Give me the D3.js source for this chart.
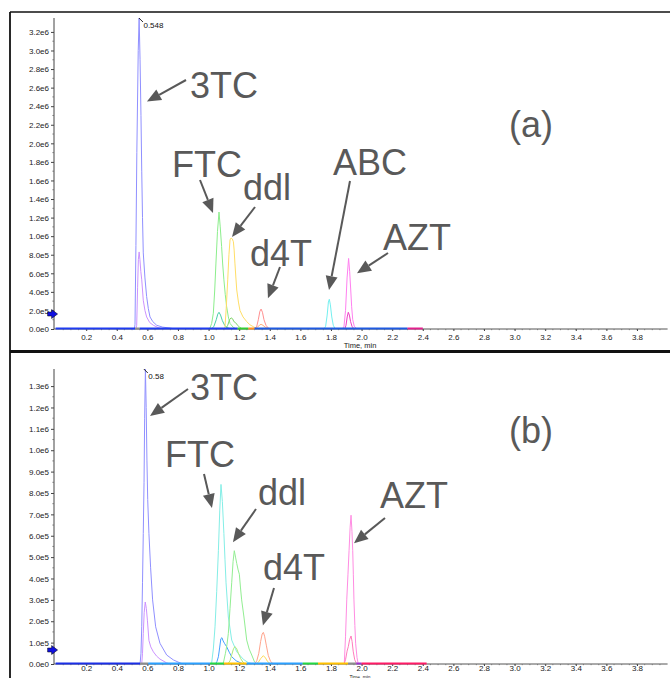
<!DOCTYPE html>
<html>
<head>
<meta charset="utf-8">
<script src="https://cdn.jsdelivr.net/npm/d3@7"></script>
<style>
  body { margin: 0; background: #fff; }
  svg { display: block; }
  text { font-family: "Liberation Sans", Arial, sans-serif; }
</style>
</head>
<body>
<svg id="chart" width="670" height="678"></svg>
<script>
// ---------- data: time in min, intensity in cps ----------
const timeTicks = [0.2, 0.4, 0.6, 0.8, 1.0, 1.2, 1.4, 1.6, 1.8, 2.0, 2.2, 2.4, 2.6, 2.8, 3.0, 3.2, 3.4, 3.6, 3.8];
const yTicksA = [0, 2e5, 4e5, 6e5, 8e5, 1.0e6, 1.2e6, 1.4e6, 1.6e6, 1.8e6, 2.0e6, 2.2e6, 2.4e6, 2.6e6, 2.8e6, 3.0e6, 3.2e6];
const yTicksB = [0, 1e5, 2e5, 3e5, 4e5, 5e5, 6e5, 7e5, 8e5, 9e5, 1.0e6, 1.1e6, 1.2e6, 1.3e6];

// panel (a): quantifier / qualifier transitions
const a3TCq = [[0.50,0],[0.515,0],[0.519,0.05e6],[0.525,0.9e6],[0.531,1.9e6],[0.540,3.0e6],[0.546,3.35e6],[0.552,2.9e6],[0.558,2.3e6],[0.563,1.7e6],[0.568,1.2e6],[0.573,0.82e6],[0.584,0.55e6],[0.595,0.35e6],[0.606,0.22e6],[0.617,0.13e6],[0.635,0.08e6],[0.661,0.04e6],[0.70,0.02e6],[0.748,0.01e6],[0.78,0]];
const a3TCc = [[0.525,0],[0.530,0.04e6],[0.536,0.45e6],[0.541,0.75e6],[0.546,0.83e6],[0.551,0.75e6],[0.557,0.62e6],[0.563,0.53e6],[0.573,0.31e6],[0.584,0.2e6],[0.595,0.13e6],[0.615,0.07e6],[0.639,0.04e6],[0.67,0.015e6],[0.70,0]];
const aFTCq = [[1.00,0],[1.009,0.01e6],[1.02,0.06e6],[1.031,0.17e6],[1.040,0.42e6],[1.048,0.71e6],[1.058,1.05e6],[1.068,1.26e6],[1.076,1.1e6],[1.085,0.89e6],[1.092,0.7e6],[1.10,0.53e6],[1.109,0.37e6],[1.118,0.24e6],[1.129,0.13e6],[1.14,0.06e6],[1.16,0.02e6],[1.18,0]];
const aFTCc = [[1.02,0],[1.035,0.03e6],[1.05,0.1e6],[1.06,0.16e6],[1.068,0.18e6],[1.078,0.15e6],[1.09,0.09e6],[1.105,0.04e6],[1.12,0.015e6],[1.15,0]];
const aDDIq = [[1.10,0],[1.107,0.02e6],[1.115,0.22e6],[1.125,0.53e6],[1.133,0.8e6],[1.14,0.96e6],[1.147,0.98e6],[1.155,0.97e6],[1.162,0.94e6],[1.167,0.85e6],[1.172,0.71e6],[1.178,0.56e6],[1.184,0.42e6],[1.195,0.29e6],[1.205,0.2e6],[1.225,0.13e6],[1.249,0.08e6],[1.27,0.045e6],[1.292,0.025e6],[1.32,0]];
const aDDIc = [[1.11,0],[1.125,0.04e6],[1.137,0.1e6],[1.147,0.12e6],[1.157,0.11e6],[1.165,0.08e6],[1.175,0.07e6],[1.19,0.04e6],[1.205,0.015e6],[1.22,0]];
const aD4Tq = [[1.30,0],[1.315,0.03e6],[1.325,0.1e6],[1.335,0.19e6],[1.343,0.215e6],[1.352,0.18e6],[1.362,0.1e6],[1.375,0.04e6],[1.39,0.01e6],[1.40,0]];
const aD4Tc = [[1.30,0],[1.32,0.02e6],[1.335,0.045e6],[1.343,0.05e6],[1.355,0.04e6],[1.37,0.02e6],[1.385,0.007e6],[1.40,0]];
const aABCq = [[1.755,0],[1.765,0.03e6],[1.775,0.15e6],[1.783,0.29e6],[1.789,0.32e6],[1.796,0.26e6],[1.805,0.13e6],[1.815,0.04e6],[1.826,0.005e6],[1.835,0]];
const aAZTq = [[1.875,0],[1.885,0.03e6],[1.895,0.2e6],[1.905,0.55e6],[1.915,0.76e6],[1.922,0.62e6],[1.929,0.42e6],[1.935,0.24e6],[1.942,0.1e6],[1.952,0.03e6],[1.968,0]];
const aAZTc = [[1.89,0],[1.898,0.04e6],[1.906,0.13e6],[1.913,0.18e6],[1.92,0.15e6],[1.928,0.08e6],[1.937,0.03e6],[1.95,0]];
const aBaseline = [[0,0.52],[0.52,0.55],[0.55,1.19],[1.19,1.26],[1.26,1.30],[1.30,2.30],[2.30,2.40]];

// panel (b)
const b3TCq = [[0.545,0],[0.552,0],[0.558,0.5e5],[0.563,1.74e5],[0.568,3.8e5],[0.573,6.1e5],[0.578,8.5e5],[0.582,1.15e6],[0.587,1.38e6],[0.592,1.2e6],[0.597,9.5e5],[0.602,7.7e5],[0.61,6.1e5],[0.621,4.5e5],[0.634,3.0e5],[0.654,1.74e5],[0.682,0.97e5],[0.726,0.42e5],[0.77,0.19e5],[0.82,0.03e5],[0.84,0]];
const b3TCc = [[0.563,0],[0.568,0.5e5],[0.573,1.43e5],[0.579,2.4e5],[0.586,2.9e5],[0.593,2.6e5],[0.60,2.05e5],[0.61,1.1e5],[0.622,0.8e5],[0.639,0.57e5],[0.66,0.37e5],[0.682,0.23e5],[0.726,0.05e5],[0.75,0]];
const bFTCq = [[1.01,0],[1.02,0.05e5],[1.031,0.7e5],[1.042,1.74e5],[1.053,3.4e5],[1.064,5.3e5],[1.073,7.2e5],[1.081,8.4e5],[1.09,7.6e5],[1.10,6.1e5],[1.107,4.9e5],[1.114,3.8e5],[1.129,2.2e5],[1.151,1.12e5],[1.184,0.57e5],[1.227,0.22e5],[1.26,0.06e5],[1.29,0]];
const bFTCc = [[1.045,0],[1.055,0.12e5],[1.064,0.34e5],[1.072,0.75e5],[1.08,1.18e5],[1.087,1.23e5],[1.095,1.08e5],[1.105,0.95e5],[1.118,0.81e5],[1.135,0.55e5],[1.151,0.34e5],[1.18,0.15e5],[1.21,0.05e5],[1.23,0]];
const bDDIq = [[1.09,0],[1.096,0.03e5],[1.11,0.5e5],[1.12,0.9e5],[1.129,1.43e5],[1.14,2.6e5],[1.151,3.8e5],[1.16,4.8e5],[1.168,5.3e5],[1.176,5.0e5],[1.184,4.7e5],[1.193,4.4e5],[1.201,4.2e5],[1.208,3.6e5],[1.216,3.0e5],[1.231,2.2e5],[1.249,1.12e5],[1.265,0.7e5],[1.282,0.42e5],[1.30,0.1e5],[1.315,0]];
const bDDIc = [[1.125,0],[1.14,0.15e5],[1.152,0.45e5],[1.163,0.72e5],[1.172,0.81e5],[1.182,0.74e5],[1.195,0.5e5],[1.21,0.25e5],[1.225,0.08e5],[1.24,0]];
const bD4Tq = [[1.30,0],[1.315,0.15e5],[1.328,0.5e5],[1.34,1.05e5],[1.35,1.4e5],[1.358,1.48e5],[1.366,1.3e5],[1.378,0.85e5],[1.39,0.4e5],[1.405,0.12e5],[1.423,0]];
const bD4Tc = [[1.31,0],[1.325,0.08e5],[1.34,0.25e5],[1.358,0.39e5],[1.372,0.28e5],[1.385,0.12e5],[1.40,0.03e5],[1.41,0]];
const bAZTq = [[1.88,0],[1.887,0.05e5],[1.895,1.3e5],[1.903,3.0e5],[1.911,4.2e5],[1.918,5.3e5],[1.925,6.4e5],[1.931,6.96e5],[1.937,6.2e5],[1.942,5.3e5],[1.946,4.2e5],[1.95,3.0e5],[1.956,1.8e5],[1.961,0.97e5],[1.97,0.3e5],[1.978,0]];
const bAZTc = [[1.885,0],[1.895,0.2e5],[1.905,0.6e5],[1.913,0.81e5],[1.922,1.15e5],[1.931,1.31e5],[1.938,1.05e5],[1.945,0.6e5],[1.955,0.2e5],[1.965,0.05e5],[1.97,0]];
const bBaseline = [[0,0.552],[0.552,0.605],[0.605,1.009],[1.009,1.10],[1.10,1.249],[1.249,1.615],[1.615,1.715],[1.715,1.911],[1.911,1.965],[1.965,2.0],[2.0,2.425]];

const apexA = { time: 0.548, label: "0.548" };
const apexB = { time: 0.58, label: "0.58" };

// ---------- styling ----------
const TEXT = "#595959";
const tracesA = [
  { d: a3TCq, c: "#9090ff" }, { d: a3TCc, c: "#cc92ff" },
  { d: aFTCq, c: "#8cee8c" }, { d: aFTCc, c: "#48d0a8" },
  { d: aDDIq, c: "#ffde66" }, { d: aDDIc, c: "#80d468" },
  { d: aD4Tq, c: "#ff9090" }, { d: aD4Tc, c: "#ffae78" },
  { d: aABCq, c: "#74f0f0" },
  { d: aAZTq, c: "#ff80f0" }, { d: aAZTc, c: "#ec40c4" }
];
const baseColorsA = ["#1f3cf0", "#8c8c8c", "#1f3cf0", "#33cc33", "#ff9020", "#1f5ae0", "#e0208c"];
const tracesB = [
  { d: b3TCq, c: "#9090ff" }, { d: b3TCc, c: "#cc92ff" },
  { d: bFTCq, c: "#84eee6" }, { d: bFTCc, c: "#44a0ff" },
  { d: bDDIq, c: "#92ee92" }, { d: bDDIc, c: "#aeea78" },
  { d: bD4Tq, c: "#ffa48c" }, { d: bD4Tc, c: "#ffda58" },
  { d: bAZTq, c: "#ff8ce2" }, { d: bAZTc, c: "#ff7cbc" }
];
const baseColorsB = ["#1a2ee6", "#8c8c8c", "#2aa0ff", "#22d844", "#ffc000", "#2aa0ff", "#22d844", "#ffc000", "#8c8c8c", "#9933cc", "#ff1a66"];

const svg = d3.select("#chart");

// frames
svg.append("line").attr("x1", 10).attr("x2", 670).attr("y1", 12).attr("y2", 12).attr("stroke", "#111").attr("stroke-width", 1.5);
svg.append("line").attr("x1", 10).attr("x2", 10).attr("y1", 12).attr("y2", 678).attr("stroke", "#111").attr("stroke-width", 1.8);
svg.append("line").attr("x1", 10).attr("x2", 670).attr("y1", 351.5).attr("y2", 351.5).attr("stroke", "#111").attr("stroke-width", 3);

const x = d3.scaleLinear().domain([0, 4.0]).range([55.6, 667.6]);

function sci(v) {
  if (v === 0) return "0.0e0";
  const e = Math.floor(Math.log10(v) + 1e-9);
  return (v / Math.pow(10, e)).toFixed(1) + "e" + e;
}

function drawPanel(cfg) {
  const y = d3.scaleLinear().domain([0, cfg.ymax]).range([cfg.y0, cfg.yTop]);
  const g = svg.append("g");
  // the lower panel runs into the page edge, so its time labels are packed tighter
  const low = cfg.y0 + 19 > 676;

  // y axis
  const yAxis = d3.axisLeft(y).tickValues(cfg.yTicks).tickFormat(sci).tickSize(3).tickPadding(2);
  const ya = g.append("g").attr("transform", `translate(${x.range()[0] - 1.6},0)`).call(yAxis);
  ya.select(".domain").attr("stroke", "#444").attr("d", `M0,${cfg.y0}V${cfg.yTop}`);
  ya.selectAll(".tick line").attr("stroke", "#444");
  ya.selectAll("text").attr("font-size", 8).attr("fill", "#222").attr("dy", "0.34em");
  // minor y ticks
  g.append("g").selectAll("line").data(cfg.yMinor).join("line")
    .attr("x1", x.range()[0] - 3.2).attr("x2", x.range()[0] - 1.6)
    .attr("y1", d => y(d)).attr("y2", d => y(d)).attr("stroke", "#666").attr("stroke-width", 0.8);

  // x axis
  const xAxis = d3.axisBottom(x).tickValues(timeTicks).tickFormat(d3.format(".1f"))
    .tickSize(2).tickPadding(low ? -0.5 : 3);
  const xa = g.append("g").attr("transform", `translate(0,${cfg.y0})`).call(xAxis);
  xa.select(".domain").attr("stroke", "#555").attr("d", `M${x.range()[0] - 1.6},0H${x.range()[1]}`);
  xa.selectAll(".tick line").attr("stroke", "#444");
  xa.selectAll("text").attr("font-size", 8).attr("fill", "#222");
  // minor x ticks every 0.05 min
  g.append("g").selectAll("line").data(d3.range(1, 80).map(i => i * 0.05)).join("line")
    .attr("x1", d => x(d)).attr("x2", d => x(d))
    .attr("y1", cfg.y0).attr("y2", cfg.y0 + 1.2).attr("stroke", "#666").attr("stroke-width", 0.7);

  g.append("text").attr("x", 360).attr("y", low ? 678.5 : cfg.y0 + 19).attr("text-anchor", "middle")
    .attr("font-size", low ? 4.8 : 7.5).attr("fill", "#222").text("Time, min");

  // chromatogram traces
  const line = d3.line().x(d => x(d[0])).y(d => y(d[1]));
  g.append("g").selectAll("path").data(cfg.traces).join("path")
    .attr("d", t => line(t.d)).attr("fill", "none")
    .attr("stroke", t => t.c).attr("stroke-width", 1).attr("stroke-linejoin", "round");

  // coloured baseline segments
  g.append("g").selectAll("line").data(cfg.baseline).join("line")
    .attr("x1", d => x(d[0])).attr("x2", d => x(d[1]))
    .attr("y1", cfg.y0 - 0.5).attr("y2", cfg.y0 - 0.5)
    .attr("stroke", (d, i) => cfg.baseColors[i]).attr("stroke-width", 2);

  // apex label of the largest peak
  const top = d3.max(cfg.traces[0].d, d => d[1]);
  const px = x(cfg.apex.time), py = y(top);
  g.append("line").attr("x1", px - 0.5).attr("y1", py).attr("x2", px + 3.5).attr("y2", py + 4)
    .attr("stroke", "#111").attr("stroke-width", 0.9);
  g.append("text").attr("x", px + 4).attr("y", py + 10).attr("font-size", 8).attr("fill", "#111").text(cfg.apex.label);

  // blue threshold marker on the y axis
  const my = cfg.markerY;
  g.append("path")
    .attr("d", `M${x.range()[0] - 8},${my - 2}h4v-2.5l6,4.5l-6,4.5v-2.5h-4z`)
    .attr("fill", "#1010e0").attr("stroke", "#000").attr("stroke-width", 0.5);

  // compound annotations
  cfg.notes.forEach(n => {
    g.append("text").attr("x", n.tx).attr("y", n.ty).attr("font-size", 36).attr("fill", TEXT).text(n.label);
    if (n.tip) {
      const x1 = n.tail[0], y1 = n.tail[1];
      const x2 = x(n.tip[0]), y2 = y(n.tip[1]);
      const ang = Math.atan2(y2 - y1, x2 - x1);
      const hl = 14, hw = 6;
      const bx = x2 - hl * Math.cos(ang), by = y2 - hl * Math.sin(ang);
      g.append("line").attr("x1", x1).attr("y1", y1).attr("x2", bx).attr("y2", by)
        .attr("stroke", TEXT).attr("stroke-width", 2);
      g.append("path")
        .attr("d", `M${x2},${y2}L${bx + hw * Math.sin(ang)},${by - hw * Math.cos(ang)}L${bx - hw * Math.sin(ang)},${by + hw * Math.cos(ang)}Z`)
        .attr("fill", TEXT);
    }
  });
}

drawPanel({
  y0: 329, yTop: 18, ymax: 3.35e6, yTicks: yTicksA,
  yMinor: yTicksA.slice(0, -1).map(v => v + 1e5),
  traces: tracesA, baseline: aBaseline, baseColors: baseColorsA, apex: apexA, markerY: 314,
  notes: [
    { label: "3TC", tx: 190, ty: 98, tail: [186, 80], tip: [0.597, 2.45e6] },
    { label: "(a)", tx: 509, ty: 137 },
    { label: "FTC", tx: 172, ty: 177, tail: [200, 180], tip: [1.029, 1.25e6] },
    { label: "ddl", tx: 243, ty: 200, tail: [255, 207], tip: [1.153, 0.99e6] },
    { label: "d4T", tx: 250, ty: 266, tail: [280, 267], tip: [1.388, 0.33e6] },
    { label: "ABC", tx: 333, ty: 175, tail: [350, 181], tip: [1.787, 0.42e6] },
    { label: "AZT", tx: 383, ty: 250, tail: [388, 253], tip: [1.97, 0.60e6] }
  ]
});

drawPanel({
  y0: 664, yTop: 369, ymax: 1.38e6, yTicks: yTicksB,
  yMinor: yTicksB.slice(0, -1).map(v => v + 5e4),
  traces: tracesB, baseline: bBaseline, baseColors: baseColorsB, apex: apexB, markerY: 650,
  notes: [
    { label: "3TC", tx: 190, ty: 400, tail: [188, 389], tip: [0.617, 1.16e6] },
    { label: "(b)", tx: 509, ty: 443 },
    { label: "FTC", tx: 165, ty: 467, tail: [204, 474], tip: [1.022, 0.73e6] },
    { label: "ddl", tx: 258, ty: 505, tail: [256, 509], tip: [1.159, 0.57e6] },
    { label: "d4T", tx: 263, ty: 580, tail: [274, 588], tip: [1.355, 0.18e6] },
    { label: "AZT", tx: 380, ty: 508, tail: [385, 518], tip: [1.95, 0.565e6] }
  ]
});
</script>
</body>
</html>
